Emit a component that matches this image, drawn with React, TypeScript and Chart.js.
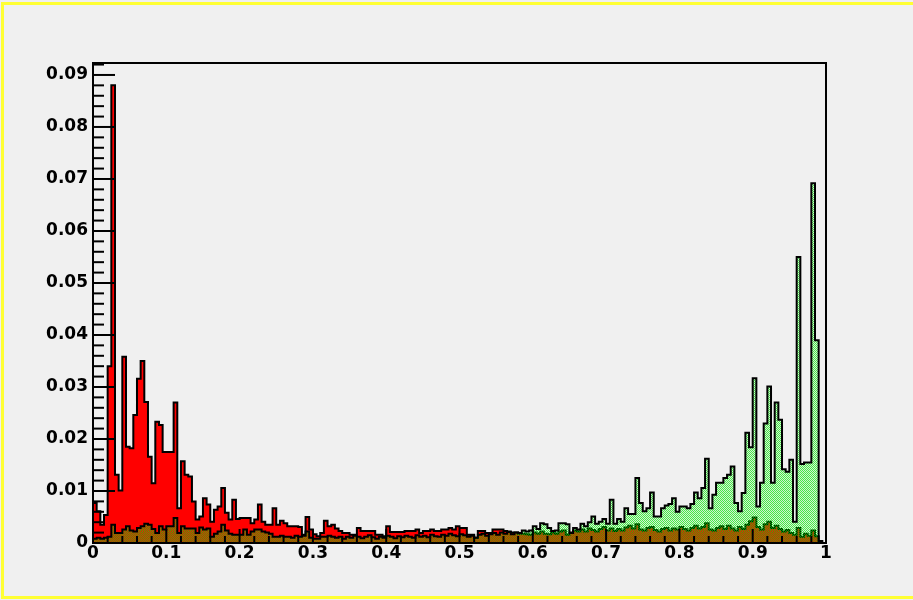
import React, { useEffect, useRef } from "react";
import { Chart, registerables } from "chart.js";

Chart.register(...registerables);

// ---- data (200 bins on [0,1]) ----
const BIN_WIDTH = 0.005;

const RED_VALUES = [
  0.0077, 0.0061, 0.0035, 0.0054, 0.034, 0.088, 0.0131, 0.0101, 0.0358, 0.0185,
  0.0182, 0.0246, 0.0316, 0.035, 0.0271, 0.0166, 0.0115, 0.0233, 0.0227, 0.0175,
  0.0175, 0.0175, 0.027, 0.0067, 0.0157, 0.0131, 0.0128, 0.008, 0.0045, 0.0051,
  0.0086, 0.0074, 0.0041, 0.0064, 0.007, 0.0106, 0.0058, 0.0045, 0.0083, 0.0046,
  0.0048, 0.0048, 0.0048, 0.0038, 0.0045, 0.0074, 0.0041, 0.0035, 0.0035, 0.0067,
  0.0035, 0.0043, 0.0038, 0.0032, 0.0032, 0.0032, 0.0031, 0.0016, 0.005, 0.0026,
  0.0017, 0.0013, 0.0019, 0.0043, 0.0032, 0.0035, 0.0028, 0.0023, 0.0019, 0.0019,
  0.0016, 0.0016, 0.0029, 0.0023, 0.0023, 0.0023, 0.0023, 0.0016, 0.0016, 0.0013,
  0.0032, 0.0021, 0.0021, 0.0021, 0.0021, 0.0023, 0.0023, 0.0023, 0.0026, 0.0019,
  0.0023, 0.0023, 0.0026, 0.0023, 0.0023, 0.0026, 0.0026, 0.0029, 0.0026, 0.0032,
  0.0029, 0.0029, 0.0016, 0.0016, 0.001, 0.0023, 0.0023, 0.0019, 0.0019, 0.0026,
  0.0026, 0.0026, 0.0023, 0.0022, 0.002, 0.002, 0.0018, 0.0018, 0.0017, 0.0016,
  0.002, 0.0018, 0.0022, 0.0018, 0.0017, 0.002, 0.0018, 0.0022, 0.0024, 0.0016,
  0.002, 0.0024, 0.0022, 0.0026, 0.0022, 0.0028, 0.0025, 0.0022, 0.0027, 0.0031,
  0.0024, 0.0028, 0.0023, 0.0027, 0.0024, 0.003, 0.0033, 0.0028, 0.0036, 0.0026,
  0.0024, 0.0029, 0.0031, 0.0025, 0.0022, 0.0027, 0.0029, 0.0024, 0.0028, 0.0026,
  0.0031, 0.0027, 0.0024, 0.0029, 0.0033, 0.0028, 0.0031, 0.0038, 0.0026, 0.0024,
  0.0029, 0.0032, 0.0027, 0.0033, 0.0028, 0.0024, 0.0031, 0.0027, 0.0035, 0.0042,
  0.0049, 0.0031, 0.0026, 0.0036, 0.0041, 0.0029, 0.0033, 0.0027, 0.0022, 0.0025,
  0.0019, 0.0016, 0.0029, 0.0012, 0.0018, 0.0014, 0.0024, 0.0013, 0.0004, 0,
];

const GREEN_VALUES = [
  0.0008, 0.001, 0.0008, 0.001, 0.0012, 0.0035, 0.0019, 0.0019, 0.0026, 0.0032,
  0.0024, 0.0022, 0.0029, 0.0032, 0.0037, 0.0035, 0.0027, 0.0019, 0.0032, 0.0026,
  0.0032, 0.0032, 0.0048, 0.0019, 0.0032, 0.0028, 0.0028, 0.0028, 0.0019, 0.003,
  0.0026, 0.0028, 0.0012, 0.0018, 0.0022, 0.0035, 0.0024, 0.0018, 0.0016, 0.0016,
  0.0016, 0.0026, 0.0016, 0.0022, 0.0026, 0.0026, 0.0022, 0.002, 0.0018, 0.0012,
  0.0012, 0.0014, 0.0012, 0.0012, 0.001, 0.0014, 0.0012, 0.0014, 0.0022, 0.001,
  0.0008, 0.0008, 0.0012, 0.0012, 0.0014, 0.0012, 0.001, 0.0012, 0.0008, 0.0012,
  0.001, 0.0014, 0.0012, 0.0009, 0.0012, 0.0015, 0.0011, 0.0008, 0.0012, 0.001,
  0.0014, 0.0012, 0.0009, 0.0013, 0.0011, 0.0014, 0.0012, 0.001, 0.0015, 0.0012,
  0.0014, 0.0011, 0.0016, 0.0013, 0.0012, 0.0016, 0.0014, 0.0018, 0.0015, 0.0013,
  0.0017, 0.0015, 0.0012, 0.0014, 0.001, 0.0016, 0.0018, 0.0014, 0.0017, 0.0019,
  0.0016, 0.002, 0.0018, 0.0021, 0.0017, 0.002, 0.0019, 0.0024, 0.0022, 0.0024,
  0.0032, 0.0027, 0.0038, 0.0036, 0.0029, 0.0023, 0.0024, 0.0038, 0.0038, 0.0036,
  0.0019, 0.0029, 0.0026, 0.0037, 0.0032, 0.004, 0.0051, 0.0037, 0.0041, 0.0046,
  0.0037, 0.0083, 0.0037, 0.0046, 0.0041, 0.0067, 0.0056, 0.0056, 0.0125, 0.0077,
  0.0061, 0.0067, 0.0097, 0.0051, 0.0051, 0.0067, 0.0072, 0.0075, 0.0086, 0.006,
  0.007, 0.007, 0.0067, 0.0075, 0.0097, 0.0086, 0.0106, 0.0162, 0.0067, 0.0093,
  0.0116, 0.0116, 0.0125, 0.0131, 0.0147, 0.0077, 0.0061, 0.0096, 0.0212, 0.0184,
  0.0317, 0.007, 0.0116, 0.023, 0.0301, 0.0116, 0.027, 0.0237, 0.0142, 0.0137,
  0.016, 0.0041, 0.055, 0.0152, 0.0155, 0.0155, 0.0692, 0.039, 0, 0,
];

const X_TICKS = [0, 0.1, 0.2, 0.3, 0.4, 0.5, 0.6, 0.7, 0.8, 0.9, 1];
const X_TICK_LABELS = ["0", "0.1", "0.2", "0.3", "0.4", "0.5", "0.6", "0.7", "0.8", "0.9", "1"];
const X_MINOR_STEP = 0.02;
const Y_TICKS = [0, 0.01, 0.02, 0.03, 0.04, 0.05, 0.06, 0.07, 0.08, 0.09];
const Y_TICK_LABELS = ["0", "0.01", "0.02", "0.03", "0.04", "0.05", "0.06", "0.07", "0.08", "0.09"];
const Y_MINOR_STEP = 0.002;
const Y_MAX = 0.0923;

// histogram -> stepped outline points (bin edges)
function stepPoints(values: number[]) {
  const pts: { x: number; y: number }[] = [{ x: 0, y: 0 }];
  values.forEach((v, i) => pts.push({ x: i * BIN_WIDTH, y: v }));
  pts.push({ x: values.length * BIN_WIDTH, y: values[values.length - 1] });
  pts.push({ x: values.length * BIN_WIDTH, y: 0 });
  return pts;
}

const rootFramePlugin = {
  id: "rootFrame",
  beforeDraw(chart: any) {
    const { ctx, width, height } = chart;
    ctx.save();
    ctx.fillStyle = "#f0f0f0";
    ctx.fillRect(0, 0, width, height);
    ctx.fillStyle = "#ffff33";
    ctx.fillRect(1, 2, width, 3);
    ctx.fillRect(1, 2, 3, height - 4);
    ctx.fillRect(1, height - 4, width, 3);
    ctx.restore();
  },
  afterDatasetsDraw(chart: any) {
    const { ctx, chartArea: a, scales } = chart;
    const xs = scales.x;
    const ys = scales.y;
    ctx.save();
    ctx.strokeStyle = "#000";
    ctx.lineWidth = 2;
    const nY = Math.round(Y_MAX / Y_MINOR_STEP);
    for (let i = 0; i <= nY; i++) {
      const v = i * Y_MINOR_STEP;
      const major = i % 5 === 0;
      const py = ys.getPixelForValue(v);
      ctx.beginPath();
      ctx.moveTo(a.left, py);
      ctx.lineTo(a.left + (major ? 22 : 11), py);
      ctx.stroke();
    }
    const nX = Math.round(1 / X_MINOR_STEP);
    for (let i = 0; i <= nX; i++) {
      const v = i * X_MINOR_STEP;
      const major = i % 5 === 0;
      const px = xs.getPixelForValue(v);
      ctx.beginPath();
      ctx.moveTo(px, a.bottom);
      ctx.lineTo(px, a.bottom - (major ? 14 : 7));
      ctx.stroke();
    }
    ctx.strokeRect(a.left, a.top, a.right - a.left, a.bottom - a.top);
    ctx.restore();
  },
};

export default function App() {
  const canvasRef = useRef<HTMLCanvasElement | null>(null);

  useEffect(() => {
    const canvas = canvasRef.current;
    if (!canvas) return;
    const ctx = canvas.getContext("2d")!;

    // ROOT-like fine-dot hatch in green
    const pc = document.createElement("canvas");
    pc.width = 2;
    pc.height = 2;
    const pctx = pc.getContext("2d")!;
    pctx.fillStyle = "rgba(0,230,0,0.7)";
    pctx.fillRect(0, 0, 1, 1);
    pctx.fillRect(1, 1, 1, 1);
    pctx.fillStyle = "rgba(0,255,0,0.12)";
    pctx.fillRect(1, 0, 1, 1);
    pctx.fillRect(0, 1, 1, 1);
    const greenPattern = ctx.createPattern(pc, "repeat");

    const font = { family: "DejaVu Sans", weight: "bold" as const, size: 17 };

    const chart = new Chart(ctx, {
      type: "line",
      data: {
        datasets: [
          {
            label: "green",
            data: stepPoints(GREEN_VALUES),
            stepped: true,
            fill: "origin",
            backgroundColor: greenPattern as any,
            borderColor: "#000000",
            borderWidth: 2,
            pointRadius: 0,
            order: 0,
          },
          {
            label: "red",
            data: stepPoints(RED_VALUES),
            stepped: true,
            fill: "origin",
            backgroundColor: "#ff0000",
            borderColor: "#000000",
            borderWidth: 2,
            pointRadius: 0,
            order: 1,
          },
        ],
      },
      options: {
        responsive: false,
        animation: false,
        devicePixelRatio: 1,
        layout: { padding: { left: 0, top: 63, right: 87, bottom: 0 } },
        plugins: { legend: { display: false }, tooltip: { enabled: false } },
        scales: {
          x: {
            type: "linear",
            min: 0,
            max: 1,
            grid: { display: false, drawTicks: false },
            border: { display: false },
            afterBuildTicks: (s: any) => {
              s.ticks = X_TICKS.map((v) => ({ value: v }));
            },
            afterFit: (s: any) => {
              s.height = 57;
            },
            ticks: {
              autoSkip: false,
              maxRotation: 0,
              padding: 0,
              color: "#000",
              font,
              callback: (_v: any, i: number) => X_TICK_LABELS[i],
            },
          },
          y: {
            type: "linear",
            min: 0,
            max: Y_MAX,
            grid: { display: false, drawTicks: false },
            border: { display: false },
            afterBuildTicks: (s: any) => {
              s.ticks = Y_TICKS.map((v) => ({ value: v }));
            },
            afterFit: (s: any) => {
              s.width = 93;
            },
            ticks: {
              autoSkip: false,
              padding: 5,
              color: "#000",
              font,
              callback: (_v: any, i: number) => Y_TICK_LABELS[i],
            },
          },
        },
      },
      plugins: [rootFramePlugin],
    });

    return () => chart.destroy();
  }, []);

  return (
    <div style={{ position: "fixed", left: 0, top: 0, width: 913, height: 600 }}>
      <canvas ref={canvasRef} width={913} height={600} style={{ display: "block" }} />
    </div>
  );
}
